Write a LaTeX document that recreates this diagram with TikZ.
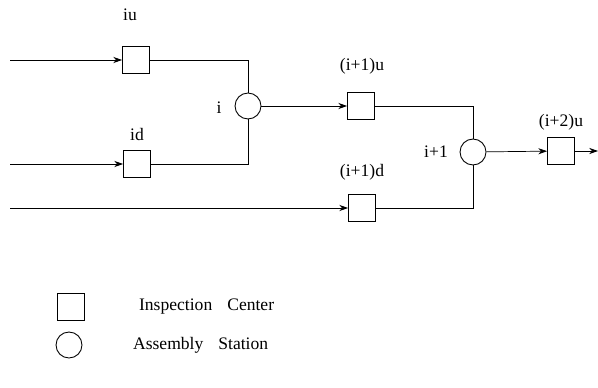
\documentclass[tikz,border=0pt]{standalone}
\usepackage{fontspec}
\setmainfont{Liberation Serif}
\usetikzlibrary{arrows.meta,positioning}

\begin{document}
\begin{tikzpicture}[
  x=0.02cm, y=-0.02cm, >={Stealth[length=5pt,width=3.5pt]},
  insp/.style={draw, line width=0.5pt, minimum size=0.54cm, inner sep=0pt},
  asm/.style={draw, circle, line width=0.5pt, minimum size=0.52cm, inner sep=0pt},
  lbl/.style={font=\normalsize, inner sep=1pt}
]
\useasboundingbox (0,0) rectangle (598,388);

% stations
\node[insp] (iu) at (136,60) {};
\node[insp] (id) at (137,164) {};
\node[asm] (ci) at (248,106) {};
\node[insp] (i1u) at (361,106) {};
\node[insp] (i1d) at (362,208) {};
\node[asm] (ci1) at (473,152) {};
\node[insp] (i2u) at (561,151) {};

% labels
\node[lbl] at (130,15) {iu};
\node[lbl] at (137,134) {id};
\node[lbl] at (219,108) {i};
\node[lbl] at (362,66) {(i+1)u};
\node[lbl] at (362,172) {(i+1)d};
\node[lbl] at (436,152) {i+1};
\node[lbl] at (561,122) {(i+2)u};

% free ends
\coordinate (inu) at (10,60);
\coordinate (ind) at (10,164);
\coordinate (inl) at (10,208);
\coordinate (out) at (598,151);

% flow
\draw[->] (inu) -- (iu);
\draw[->] (ind) -- (id);
\draw (iu.east) -| (ci.north);
\draw (id.east) -| (ci.south);
\draw[->] (ci) -- (i1u);
\draw[->] (inl) -- (i1d);
\draw (i1u.east) -| (ci1.north);
\draw (i1d.east) -| (ci1.south);
\draw[->] (ci1) -- (i2u);
\draw[->] (i2u) -- (out);

% legend
\node[insp] (keybox) at (71,307) {};
\node[lbl, anchor=west] (keyinsp) at (137,307) {Inspection\hspace{0.3cm}Center};
\node[asm] (keycirc) at (69,345) {};
\node[lbl, anchor=west] (keyasm) at (131,345) {Assembly\hspace{0.3cm}Station};
\end{tikzpicture}
\end{document}
